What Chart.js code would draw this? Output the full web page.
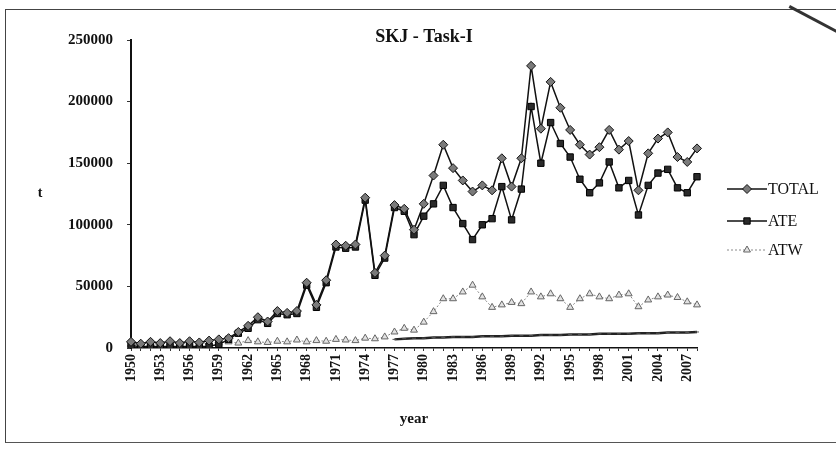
<!DOCTYPE html>
<html>
<head>
<meta charset="utf-8">
<script src="https://cdn.jsdelivr.net/npm/chart.js@4.4.1/dist/chart.umd.min.js"></script>
<style>
    body { margin: 0; background: #fff; }
    #wrap { position: relative; width: 836px; height: 457px; overflow: hidden; }
    #frame {
        position: absolute; left: 5px; top: 9px; width: 840px; height: 432px;
        border-top: 1px solid #444; border-left: 1px solid #444; border-bottom: 1px solid #555;
    }
    #corner {
        position: absolute; left: 790px; top: 5px; width: 60px; height: 3px;
        background: #333; transform: rotate(28deg); transform-origin: 0 0;
    }
    canvas { position: absolute; left: 0; top: 0; }
</style>
</head>
<body>
<div id="wrap">
    <div id="frame"></div>
    <div id="corner"></div>
    <canvas id="skjChart" width="836" height="457"></canvas>
</div>
<script>
const years = ['1950','1951','1952','1953','1954','1955','1956','1957','1958','1959',
    '1960','1961','1962','1963','1964','1965','1966','1967','1968','1969',
    '1970','1971','1972','1973','1974','1975','1976','1977','1978','1979',
    '1980','1981','1982','1983','1984','1985','1986','1987','1988','1989',
    '1990','1991','1992','1993','1994','1995','1996','1997','1998','1999',
    '2000','2001','2002','2003','2004','2005','2006','2007','2008'];

// catches in t
const total = [5000, 3500, 5000, 4000, 5500, 4000, 5500, 4500, 6000, 7000,
    8000, 13000, 18000, 25000, 21500, 30000, 28500, 30000, 53000, 35000,
    55000, 84000, 83000, 84000, 122000, 61000, 75000, 116000, 113000, 96000,
    117000, 140000, 165000, 146000, 136000, 127000, 132000, 128000, 154000, 131000,
    154000, 229000, 178000, 216000, 195000, 177000, 165000, 157000, 163000, 177000,
    161000, 168000, 128000, 158000, 170000, 175000, 155000, 151000, 162000];

const ate = [2000, 1000, 1500, 1000, 1500, 1000, 1500, 1000, 1500, 3000,
    7000, 12000, 16000, 23000, 20000, 28000, 27000, 28000, 51000, 33000,
    53000, 82000, 81000, 82000, 120000, 59000, 73000, 114000, 111000, 92000,
    107000, 117000, 132000, 114000, 101000, 88000, 100000, 105000, 131000, 104000,
    129000, 196000, 150000, 183000, 166000, 155000, 137000, 126000, 134000, 151000,
    130000, 136000, 108000, 132000, 142000, 145000, 130000, 126000, 139000];

const atw = [3000, 2500, 3500, 3000, 4000, 3000, 4000, 3500, 4500, 4000,
    5000, 4000, 6000, 5000, 4500, 5500, 5000, 6500, 5000, 6000,
    5500, 7000, 6500, 6000, 8000, 7500, 9000, 13000, 16000, 14500,
    21000, 29500, 40000, 40000, 45500, 51000, 41500, 33000, 35000, 37000,
    36000, 45500, 41500, 44000, 40000, 33000, 40000, 44000, 41500, 40000,
    43000, 44000, 33500, 39000, 41500, 43000, 41000, 37500, 35000];

// unlabelled dark line near the bottom (no legend entry in the figure)
const other = [null, null, null, null, null, null, null, null, null, null,
    null, null, null, null, null, null, null, null, null, null,
    null, null, null, null, null, null, null, 7000, 7500, 8000,
    8000, 8500, 8500, 9000, 9000, 9000, 9500, 9500, 9500, 10000,
    10000, 10000, 10500, 10500, 10500, 11000, 11000, 11000, 11500, 11500,
    11500, 11500, 12000, 12000, 12000, 12500, 12500, 12500, 13000];

const yTicks = [0, 50000, 100000, 150000, 200000, 250000];

const serif = "'Liberation Serif', 'DejaVu Serif', serif";

// title, upright "t" and the line+marker legend on the right
const extras = {
    id: 'extras',
    afterDraw(chart) {
        const c = chart.ctx;
        c.save();
        c.fillStyle = '#111';
        c.textBaseline = 'middle';
        c.font = `bold 18px ${serif}`;
        c.textAlign = 'center';
        c.fillText('SKJ - Task-I', 424, 37);
        c.font = `bold 14px ${serif}`;
        c.fillText('t', 40, 193);

        const rows = [189, 221, 250];
        let i = 0;
        chart.data.datasets.forEach(ds => {
            if (!ds.label) return;
            const y = rows[i++];
            c.beginPath();
            c.strokeStyle = ds.borderColor;
            c.lineWidth = ds.borderWidth;
            c.setLineDash(ds.borderDash || []);
            c.moveTo(727, y);
            c.lineTo(767, y);
            c.stroke();
            c.setLineDash([]);
            c.fillStyle = ds.pointBackgroundColor;
            c.strokeStyle = ds.pointBorderColor;
            c.lineWidth = 1;
            Chart.helpers.drawPoint(c, { pointStyle: ds.pointStyle, radius: ds.pointRadius, rotation: 0, borderWidth: 1 }, 747, y);
            c.fillStyle = '#111';
            c.textAlign = 'left';
            c.font = `16px ${serif}`;
            c.fillText(ds.label, 768, y + 1);
        });
        c.restore();
    }
};

const ctx = document.getElementById('skjChart').getContext('2d');
new Chart(ctx, {
    type: 'line',
    data: {
        labels: years,
        datasets: [
            {
                label: 'TOTAL', data: total,
                borderColor: '#111', borderWidth: 1.5,
                pointStyle: 'rectRot', pointRadius: 4.5,
                pointBackgroundColor: '#7a7a7a', pointBorderColor: '#111', pointBorderWidth: 1,
                tension: 0, order: 1
            },
            {
                label: 'ATE', data: ate,
                borderColor: '#111', borderWidth: 1.5,
                pointStyle: 'rect', pointRadius: 4.5,
                pointBackgroundColor: '#2a2a2a', pointBorderColor: '#000', pointBorderWidth: 1,
                tension: 0, order: 2
            },
            {
                label: 'ATW', data: atw,
                borderColor: '#8a8a8a', borderWidth: 1, borderDash: [2, 2],
                pointStyle: 'triangle', pointRadius: 4,
                pointBackgroundColor: '#e2e2e2', pointBorderColor: '#666', pointBorderWidth: 1,
                tension: 0, order: 3
            },
            {
                label: '', data: other,
                borderColor: '#222', borderWidth: 2.5,
                pointStyle: 'line', pointRadius: 2,
                pointBackgroundColor: '#222', pointBorderColor: '#555', pointBorderWidth: 1,
                tension: 0, order: 4, spanGaps: false
            }
        ]
    },
    options: {
        responsive: false,
        animation: false,
        layout: { padding: { top: 40, right: 139, bottom: 29, left: 0 } },
        plugins: {
            legend: { display: false },
            title: { display: false },
            tooltip: { enabled: false }
        },
        scales: {
            x: {
                offset: false,
                grid: { drawOnChartArea: false, tickLength: 3, color: '#333' },
                border: { color: '#111', width: 1.5 },
                ticks: {
                    autoSkip: false, maxRotation: 90, minRotation: 90,
                    color: '#111', font: { family: serif, size: 14, weight: 'bold' },
                    callback: function(val, index) { return index % 3 === 0 ? years[index] : ''; }
                },
                title: {
                    display: true, text: 'year', color: '#111',
                    font: { family: serif, size: 15, weight: 'bold' },
                    padding: { top: 8, bottom: 0 }
                },
                afterFit: scale => { scale.height = 80; }
            },
            y: {
                min: 0, max: 250000,
                afterBuildTicks: scale => { scale.ticks = yTicks.map(v => ({ value: v })); },
                grid: { drawOnChartArea: false, tickLength: 4, color: '#333' },
                border: { color: '#111', width: 2 },
                ticks: {
                    color: '#111', padding: 14,
                    font: { family: serif, size: 15, weight: 'bold' },
                    callback: v => String(v)
                },
                afterFit: scale => { scale.width = 131; }
            }
        }
    },
    plugins: [extras]
});
</script>
</body>
</html>
